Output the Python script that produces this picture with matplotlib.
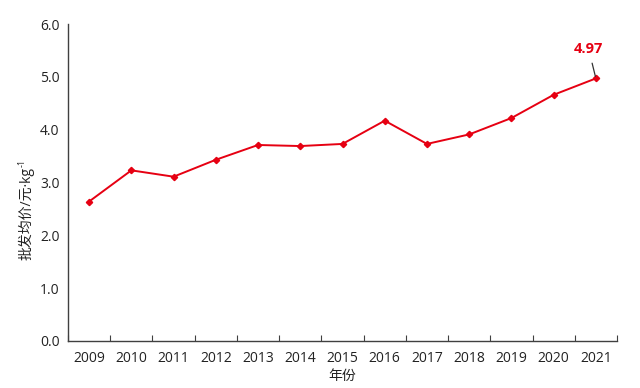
import matplotlib
matplotlib.use("Agg")
import matplotlib.pyplot as plt
import numpy as np

# wholesale average price by year
years = ["2009", "2010", "2011", "2012", "2013", "2014", "2015",
         "2016", "2017", "2018", "2019", "2020", "2021"]
prices = [2.64, 3.23, 3.11, 3.43, 3.71, 3.69, 3.73,
          4.17, 3.73, 3.91, 4.22, 4.66, 4.97]
y_ticks = [0.0, 1.0, 2.0, 3.0, 4.0, 5.0, 6.0]

plt.rcParams['font.family'] = ['Open Sans', 'Noto Sans CJK SC', 'DejaVu Sans']

fig = plt.figure(figsize=(6.4, 3.88), dpi=100)
ax = fig.add_axes([68/640, 1 - 341/388, (617 - 68)/640, (341 - 24)/388])

x = np.arange(len(years))
ax.plot(x, prices, color="#e60012", lw=1.4, marker="D", ms=3.2, zorder=3)

ax.annotate(f"{prices[-1]:.2f}", xy=(x[-1], prices[-1]), xytext=(x[-1] - 0.17, 5.52),
            ha="center", va="center", color="#e60012", fontweight="bold", fontsize=10.5,
            arrowprops=dict(arrowstyle="-", color="#333333", lw=0.9, shrinkA=3, shrinkB=1.5))

ax.set_xlim(-0.5, len(years) - 0.5)
ax.set_ylim(0, 6)
ax.set_yticks(y_ticks)
ax.set_yticklabels([f"{v:.1f}" for v in y_ticks])

# ticks between categories, labels at centers
ax.set_xticks(np.arange(-0.5, len(years), 1.0))
ax.set_xticklabels([])
ax.set_xticks(x, minor=True)
ax.set_xticklabels(years, minor=True)
ax.tick_params(axis="x", which="major", direction="in", length=4, color="#404040")
ax.tick_params(axis="x", which="minor", length=0, pad=7, labelsize=10, labelcolor="#222222")
ax.tick_params(axis="y", length=0, pad=6, labelsize=10, labelcolor="#222222")

for s in ["top", "right"]:
    ax.spines[s].set_visible(False)
for s in ["left", "bottom"]:
    ax.spines[s].set_color("#404040")
    ax.spines[s].set_linewidth(1.0)

fig.text(342/640, 1 - 376/388, "年份", ha="center", va="center", fontsize=10, color="#222222")
ylab = fig.text(26/640, 1 - 214/388, "批发均价/元·kg", rotation=90, ha="center", va="center",
                fontsize=10, color="#222222")
ax.annotate("-1", xy=(0.5, 1), xycoords=ylab, xytext=(-2.5, 0.5), textcoords="offset points",
            rotation=90, ha="center", va="bottom", fontsize=6.5, color="#222222",
            annotation_clip=False)

fig.savefig("out.png", dpi=100)
